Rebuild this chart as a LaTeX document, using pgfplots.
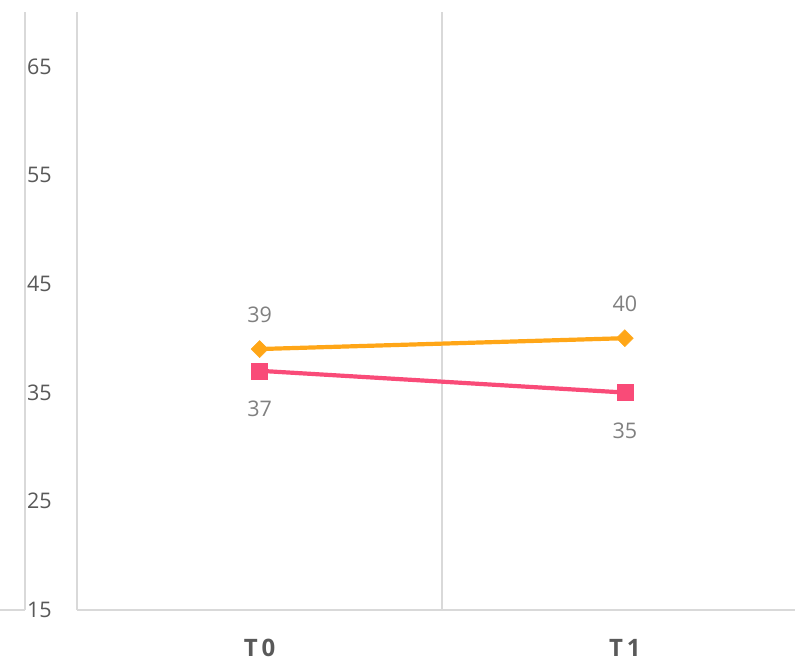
\documentclass[border=0pt]{standalone}
\usepackage{fontspec}
\setmainfont{Open Sans}
\usepackage{pgfplots}
\pgfplotsset{compat=1.18}
\definecolor{gridc}{HTML}{D9D9D9}
\definecolor{orng}{HTML}{FFA617}
\definecolor{pnk}{HTML}{F94B78}
\definecolor{tickc}{HTML}{595959}
\definecolor{lblc}{HTML}{808080}
\begin{document}
\begin{tikzpicture}
\begin{axis}[
  scale only axis, width=718pt, height=598pt,
  xmin=-0.5, xmax=1.466, ymin=15, ymax=70,
  axis x line*=bottom, axis y line*=left,
  axis line style={gridc, line width=1.5pt, -},
  xtick={0,1}, xticklabels={\textbf{T\kern4pt0}, \textbf{T\kern4pt1}},
  ytick={15,25,35,45,55,65},
  major tick length=0pt,
  extra x ticks={0.5}, extra x tick labels={},
  extra x tick style={grid=major, major grid style={gridc, line width=1.5pt}},
  xticklabel style={font=\fontsize{24}{28}\selectfont, text=tickc, anchor=center, yshift=-38pt},
  yticklabel style={font=\fontsize{21.5}{25}\selectfont, text=tickc, anchor=west, inner sep=0pt, xshift=-50pt},
  /pgf/number format/assume math mode=true,
  clip=false,
]
\addplot[orng, line width=4.2pt, mark=square*, mark size=6pt,
  mark options={rotate=45, fill=orng, draw=orng, line width=0.5pt},
  nodes near coords, nodes near coords style={font=\fontsize{21.5}{25}\selectfont, text=lblc, anchor=center, yshift=34pt}]
  coordinates {(0,39) (1,40)};
\addplot[pnk, line width=4.2pt, mark=square*, mark size=8pt,
  mark options={fill=pnk, draw=pnk, line width=0.5pt},
  nodes near coords, nodes near coords style={font=\fontsize{21.5}{25}\selectfont, text=lblc, anchor=center, yshift=-38pt}]
  coordinates {(0,37) (1,35)};
\end{axis}
\draw[gridc, line width=1.5pt] (-52pt,0) -- (-52pt,598pt);
\draw[gridc, line width=1.5pt] (-77pt,0) -- (-52pt,0);
\pgfresetboundingbox
\useasboundingbox (-77pt,-55pt) rectangle (718pt,610pt);
\end{tikzpicture}
\end{document}
